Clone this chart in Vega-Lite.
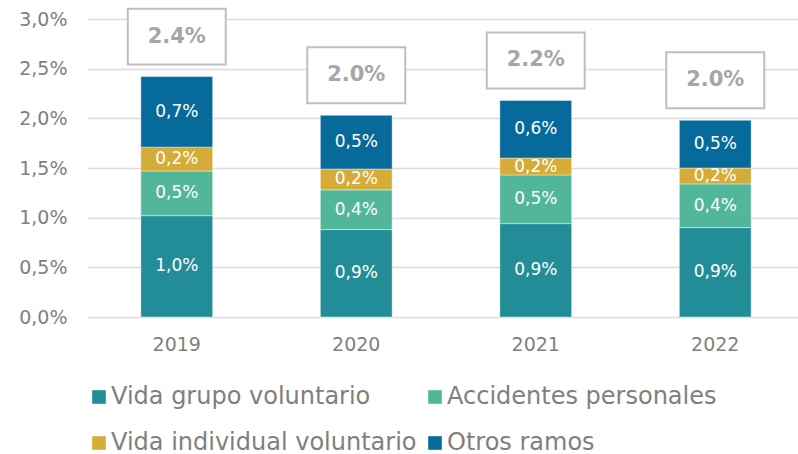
{
  "$schema": "https://vega.github.io/schema/vega-lite/v6.json",
  "width": 718,
  "height": 298,
  "padding": {"left": 18, "top": 4, "right": 0, "bottom": 0},
  "background": "white",
  "data": {
    "values": [
      {"year": "2019", "serie": "Vida grupo voluntario", "orden": 1, "value": 1.02},
      {"year": "2019", "serie": "Accidentes personales", "orden": 2, "value": 0.45},
      {"year": "2019", "serie": "Vida individual voluntario", "orden": 3, "value": 0.24},
      {"year": "2019", "serie": "Otros ramos", "orden": 4, "value": 0.71},
      {"year": "2020", "serie": "Vida grupo voluntario", "orden": 1, "value": 0.88},
      {"year": "2020", "serie": "Accidentes personales", "orden": 2, "value": 0.40},
      {"year": "2020", "serie": "Vida individual voluntario", "orden": 3, "value": 0.21},
      {"year": "2020", "serie": "Otros ramos", "orden": 4, "value": 0.54},
      {"year": "2021", "serie": "Vida grupo voluntario", "orden": 1, "value": 0.94},
      {"year": "2021", "serie": "Accidentes personales", "orden": 2, "value": 0.49},
      {"year": "2021", "serie": "Vida individual voluntario", "orden": 3, "value": 0.17},
      {"year": "2021", "serie": "Otros ramos", "orden": 4, "value": 0.58},
      {"year": "2022", "serie": "Vida grupo voluntario", "orden": 1, "value": 0.90},
      {"year": "2022", "serie": "Accidentes personales", "orden": 2, "value": 0.44},
      {"year": "2022", "serie": "Vida individual voluntario", "orden": 3, "value": 0.16},
      {"year": "2022", "serie": "Otros ramos", "orden": 4, "value": 0.48}
    ]
  },
  "encoding": {
    "x": {
      "field": "year", "type": "ordinal",
      "scale": {"paddingInner": 0.6, "paddingOuter": 0.3},
      "axis": {"title": null, "domain": false, "ticks": false, "labelAngle": 0, "labelFontSize": 19, "labelPadding": 18, "labelColor": "#7f7f7f", "labelFont": "DejaVu Sans"}
    }
  },
  "layer": [
    {
      "mark": {"type": "bar", "stroke": "white", "strokeWidth": 0.6, "strokeOpacity": 0.7},
      "encoding": {
        "y": {
          "field": "value", "type": "quantitative", "stack": "zero",
          "scale": {"domain": [0, 3], "nice": false},
          "axis": {"title": null, "values": [0, 0.5, 1, 1.5, 2, 2.5, 3], "labelExpr": "replace(format(datum.value, '.1f'), '.', ',') + '%'", "domain": false, "ticks": false, "labelPadding": 20, "labelFontSize": 19, "labelColor": "#7f7f7f", "labelFont": "DejaVu Sans", "gridColor": "#dcdcdc", "gridWidth": 1.3}
        },
        "color": {
          "field": "serie", "type": "nominal",
          "scale": {
            "domain": ["Vida grupo voluntario", "Accidentes personales", "Vida individual voluntario", "Otros ramos"],
            "range": ["#238D97", "#52B69A", "#D4AC37", "#066A9B"]
          },
          "legend": {
            "title": null, "orient": "none", "legendX": 0, "legendY": 366, "direction": "horizontal", "columns": 2,
            "symbolType": "square", "symbolSize": 185, "symbolStrokeWidth": 0,
            "labelFontSize": 24, "labelFont": "DejaVu Sans", "labelColor": "#7f7f7f", "labelOffset": 0,
            "rowPadding": 22, "columnPadding": 6, "labelLimit": 400
          }
        },
        "order": {"field": "orden", "type": "quantitative"}
      }
    },
    {
      "transform": [
        {"stack": "value", "groupby": ["year"], "sort": [{"field": "orden", "order": "ascending"}], "as": ["v0", "v1"]},
        {"calculate": "(datum.v0 + datum.v1) / 2", "as": "mid"},
        {"calculate": "replace(format(datum.value, '.1f'), '.', ',') + '%'", "as": "lbl"}
      ],
      "mark": {"type": "text", "color": "white", "fontSize": 17, "font": "DejaVu Sans", "baseline": "middle", "align": "center"},
      "encoding": {
        "y": {"field": "mid", "type": "quantitative"},
        "text": {"field": "lbl"}
      }
    },
    {
      "transform": [
        {"aggregate": [{"op": "sum", "field": "value", "as": "total"}], "groupby": ["year"]},
        {"calculate": "format(datum.total, '.1f') + '%'", "as": "tlbl"}
      ],
      "layer": [
        {
          "mark": {"type": "point", "shape": "M-1,-0.571H1V0.571H-1Z", "size": 9604, "filled": true, "fill": "white", "fillOpacity": 1, "stroke": "#bfbfbf", "strokeWidth": 2, "opacity": 1, "yOffset": -40},
          "encoding": {"y": {"field": "total", "type": "quantitative"}}
        },
        {
          "mark": {"type": "text", "color": "#a6a6a6", "fontSize": 21, "fontWeight": "bold", "font": "DejaVu Sans", "baseline": "middle", "align": "center", "yOffset": -40},
          "encoding": {
            "y": {"field": "total", "type": "quantitative"},
            "text": {"field": "tlbl"}
          }
        }
      ]
    }
  ],
  "config": {"view": {"stroke": null}}
}
